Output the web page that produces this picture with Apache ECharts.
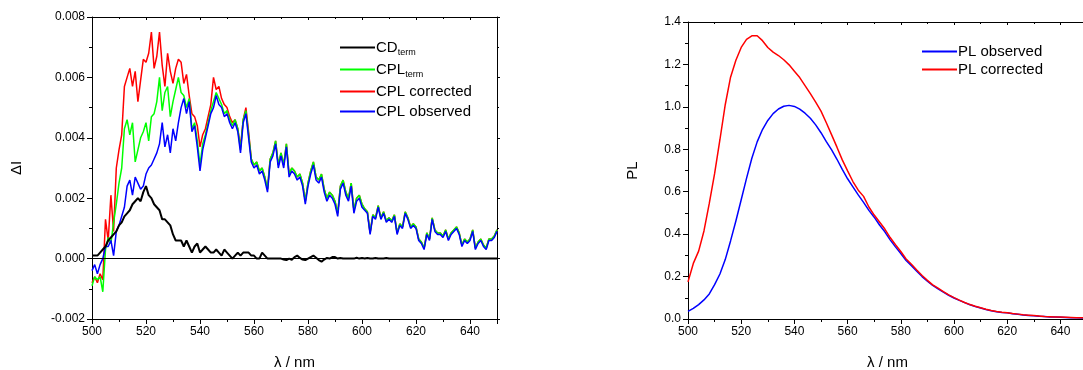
<!DOCTYPE html>
<html><head><meta charset="utf-8">
<script src="https://cdn.jsdelivr.net/npm/echarts@6/dist/echarts.min.js"></script>
<style>html,body{margin:0;padding:0;background:#fff}#c{width:1083px;height:370px}</style>
</head><body><div id="c"></div>
<script>
// ---- Left panel: ΔI vs λ, 1 nm steps from 500 to 650 ----
const cplStart = 500;
const cplStep = 1;
const cdTerm = [
0.0001,0.0001,0.0001,0.0002,0.0003,0.0004,0.0006,0.0007,0.0008,0.0009,
0.0011,0.0012,0.0014,0.0015,0.0016,0.0018,0.0019,0.0020,0.0019,0.0022,
0.0024,0.0021,0.0020,0.0018,0.0017,0.0016,0.0013,0.0013,0.0012,0.0011,
0.0008,0.0006,0.0006,0.0006,0.0004,0.0006,0.0004,0.0002,0.0004,0.0005,
0.0002,0.0003,0.0004,0.0003,0.0002,0.0002,0.0003,0.0002,0.0001,0.0003,
0.0002,0.0001,0.0000,0.0001,0.0002,0.0001,0.0002,0.0002,0.0002,0.0001,
0.0001,0.0000,0.0000,0.0002,0.0001,0.0000,0.0000,0.0000,0.0000,0.0000,
0.0000,-0.00003,-0.00005,0.0000,-0.00004,0.00005,0.0001,0.00002,-0.00003,-0.00005,
0.0000,0.00005,0.0001,0.00003,-0.00005,-0.0001,-0.00003,0.00002,0.0000,0.00005,
0.00005,0.0000,0.00002,0.0000,0.0000,0.0000,0.0000,0.0000,0.00003,0.0000,
0.00002,0.0000,0.00002,0.0000,0.0000,0.00002,0.0000,0.0000,0.0000,0.00002,
0.0000,0.0000,0.0000,0.0000,0.0000,0.0000,0.0000,0.0000,0.0000,0.0000,
0.0000,0.0000,0.0000,0.0000,0.0000,0.0000,0.0000,0.0000,0.0000,0.0000,
0.0000,0.0000,0.0000,0.0000,0.0000,0.0000,0.0000,0.0000,0.0000,0.0000,
0.0000,0.0000,0.0000,0.0000,0.0000,0.0000,0.0000,0.0000,0.0000,0.0000,
0.0000];
const cplTerm = [
-0.0009,-0.0006,-0.0007,-0.0006,-0.0011,0.0003,0.0007,0.0005,0.0012,0.0018,
0.0025,0.0030,0.0043,0.0046,0.0041,0.0045,0.0032,0.0036,0.0040,0.0042,
0.0045,0.0039,0.0047,0.0048,0.0052,0.0060,0.0049,0.0055,0.0057,0.0047,
0.0052,0.0056,0.0060,0.0055,0.0054,0.0050,0.0053,0.0043,0.0045,0.0039,
0.0031,0.0038,0.0041,0.0045,0.0049,0.0052,0.0055,0.0053,0.0051,0.0048,
0.0049,0.0046,0.0044,0.0046,0.0043,0.0036,0.0046,0.0049,0.0041,0.0033,
0.0031,0.0032,0.0029,0.0030,0.0027,0.0023,0.0033,0.0035,0.0039,0.0031,
0.0035,0.0031,0.0038,0.0028,0.0030,0.0029,0.0027,0.0028,0.0025,0.0019,
0.0025,0.0029,0.0032,0.0027,0.0026,0.0028,0.0023,0.0020,0.0022,0.0021,
0.0019,0.0015,0.0024,0.0026,0.0022,0.0020,0.0025,0.0016,0.0020,0.0021,
0.0018,0.00165,0.00155,0.00085,0.00145,0.00135,0.00175,0.00135,0.00155,0.00125,
0.00135,0.00125,0.00145,0.00085,0.00115,0.00105,0.00155,0.00135,0.00105,0.00115,
0.00105,0.00065,0.00055,0.00035,0.00085,0.00065,0.00135,0.00095,0.00085,0.00085,
0.00075,0.00095,0.00065,0.00085,0.00095,0.00105,0.00085,0.00045,0.00065,0.00055,
0.00065,0.00095,0.00035,0.00055,0.00065,0.00045,0.00035,0.00065,0.00065,0.00075,
0.00095];
const cplCorrected = [
-0.0008,-0.0006,-0.0008,-0.0005,-0.0007,0.0013,0.0006,0.0021,0.0009,0.0030,
0.0036,0.0041,0.0057,0.0060,0.0063,0.0057,0.0062,0.0052,0.0059,0.0066,
0.0065,0.0068,0.0075,0.0063,0.0067,0.0075,0.0064,0.0057,0.0068,0.0062,
0.0058,0.0063,0.0066,0.0065,0.0058,0.0061,0.0054,0.0048,0.0047,0.0044,
0.0037,0.0041,0.0043,0.0047,0.0051,0.0060,0.0056,0.0057,0.0053,0.0051,
0.0050,0.0047,0.0045,0.0046,0.0043,0.0037,0.0046,0.0050,0.0042,0.0033,
0.0031,0.0032,0.0029,0.0030,0.0027,0.0023,0.0033,0.0035,0.0039,0.0031,
0.0035,0.0031,0.0038,0.0028,0.0030,0.0029,0.0027,0.0028,0.0025,0.0019,
0.0025,0.0029,0.0032,0.0027,0.0026,0.0028,0.0023,0.0020,0.0022,0.0021,
0.0019,0.0015,0.0024,0.0026,0.0022,0.0020,0.0025,0.0016,0.0020,0.0021,
0.0018,0.00165,0.00155,0.00085,0.00145,0.00135,0.00175,0.00135,0.00155,0.00125,
0.00135,0.00125,0.00145,0.00085,0.00115,0.00105,0.00155,0.00135,0.00105,0.00115,
0.00105,0.00065,0.00055,0.00035,0.00085,0.00065,0.00135,0.00095,0.00085,0.00085,
0.00075,0.00095,0.00065,0.00085,0.00095,0.00105,0.00085,0.00045,0.00065,0.00055,
0.00065,0.00095,0.00035,0.00055,0.00065,0.00045,0.00035,0.00065,0.00065,0.00075,
0.00095];
const cplObserved = [
-0.0004,-0.0002,-0.0005,-0.0002,0.0000,0.0004,0.0004,0.0006,0.0001,0.0009,
0.0011,0.0014,0.0017,0.0024,0.0026,0.0021,0.0027,0.0025,0.0023,0.0024,
0.0028,0.0030,0.0031,0.0033,0.0035,0.0038,0.0045,0.0037,0.0041,0.0035,
0.0043,0.0039,0.0045,0.0050,0.0053,0.0048,0.0052,0.0042,0.0044,0.0037,
0.0029,0.0036,0.0040,0.0044,0.0048,0.0050,0.0054,0.0051,0.0050,0.0047,
0.0048,0.0045,0.0043,0.0045,0.0042,0.0035,0.0045,0.0048,0.0040,0.0032,
0.0030,0.0031,0.0028,0.0029,0.0026,0.0022,0.0032,0.0034,0.0038,0.0030,
0.0034,0.0030,0.0037,0.0027,0.0029,0.0028,0.0026,0.0027,0.0024,0.0018,
0.0024,0.0028,0.0031,0.0026,0.0025,0.0027,0.0022,0.0019,0.0021,0.0020,
0.0018,0.0014,0.0023,0.0025,0.0021,0.0019,0.0024,0.0015,0.0019,0.0020,
0.0017,0.0016,0.0015,0.0008,0.0014,0.0013,0.0017,0.0013,0.0015,0.0012,
0.0013,0.0012,0.0014,0.0008,0.0011,0.0010,0.0015,0.0013,0.0010,0.0011,
0.0010,0.0006,0.0005,0.0003,0.0008,0.0006,0.0013,0.0009,0.0008,0.0008,
0.0007,0.0009,0.0006,0.0008,0.0009,0.0010,0.0008,0.0004,0.0006,0.0005,
0.0006,0.0009,0.0003,0.0005,0.0006,0.0004,0.0003,0.0006,0.0006,0.0007,
0.0009];

// ---- Right panel: PL vs λ, 2 nm steps from 500 to 650 ----
const plStart = 500;
const plStep = 2;
const plObserved = [
0.036,0.050,0.068,0.090,0.118,0.162,0.212,0.280,0.368,0.462,
0.562,0.663,0.758,0.835,0.893,0.936,0.968,0.990,1.003,1.007,
1.002,0.989,0.970,0.946,0.915,0.878,0.836,0.797,0.753,0.705,
0.661,0.623,0.585,0.550,0.512,0.480,0.443,0.411,0.373,0.340,
0.309,0.276,0.251,0.225,0.200,0.178,0.158,0.142,0.127,0.112,
0.099,0.088,0.077,0.067,0.059,0.052,0.045,0.039,0.034,0.031,
0.029,0.025,0.022,0.019,0.017,0.015,0.013,0.012,0.010,0.009,
0.008,0.007,0.006,0.006,0.005,0.005];
const plCorrected = [
0.175,0.262,0.320,0.415,0.545,0.685,0.845,1.010,1.140,1.220,
1.280,1.318,1.335,1.335,1.312,1.280,1.258,1.242,1.222,1.198,
1.168,1.138,1.100,1.062,1.022,0.980,0.925,0.868,0.810,0.750,
0.698,0.648,0.607,0.578,0.528,0.490,0.457,0.424,0.384,0.350,
0.318,0.283,0.258,0.231,0.205,0.182,0.161,0.145,0.129,0.114,
0.101,0.089,0.078,0.068,0.060,0.053,0.046,0.040,0.035,0.032,
0.030,0.026,0.023,0.020,0.018,0.016,0.014,0.012,0.011,0.010,
0.009,0.008,0.007,0.006,0.006,0.005];

const xTicksNm = {min: 500, max: 650, interval: 20};
const leftY = {min: -0.002, max: 0.008, interval: 0.002};
const rightY = {min: 0, max: 1.4, interval: 0.2};

function pairs(start, step, arr) { return arr.map((v, i) => [start + i * step, v]); }

const FONT = "'Liberation Sans', Arial, sans-serif";
const lineAxis = {show: true, onZero: false, lineStyle: {color: '#000', width: 1}};

function mainX(grid) {
  return {type: 'value', gridIndex: grid, min: xTicksNm.min, max: xTicksNm.max, interval: xTicksNm.interval,
    position: 'bottom',
    name: 'λ / nm', nameLocation: 'middle', nameGap: 36,
    nameTextStyle: {fontFamily: FONT, fontSize: 15, color: '#000'},
    axisLine: lineAxis, axisTick: {show: true, inside: false, length: 5, lineStyle: {color: '#000'}},
    minorTick: {show: true, splitNumber: 2, length: 3, lineStyle: {color: '#000'}},
    axisLabel: {fontFamily: FONT, fontSize: 12, color: '#000', margin: 7, showMaxLabel: false},
    splitLine: {show: false}};
}
function mirrorX(grid) {
  return {type: 'value', gridIndex: grid, position: 'top', min: xTicksNm.min, max: xTicksNm.max, interval: xTicksNm.interval,
    axisLine: lineAxis, axisTick: {show: true, inside: true, length: 3, lineStyle: {color: '#000'}},
    minorTick: {show: true, splitNumber: 2, length: 2, lineStyle: {color: '#000'}},
    axisLabel: {show: false}, splitLine: {show: false}};
}
function mainY(grid, cfg, name, gap, dec) {
  return {type: 'value', gridIndex: grid, position: 'left', min: cfg.min, max: cfg.max, interval: cfg.interval,
    name: name, nameLocation: 'middle', nameGap: gap, nameRotate: 90,
    nameTextStyle: {fontFamily: FONT, fontSize: 15, color: '#000'},
    axisLine: lineAxis, axisTick: {show: true, inside: false, length: 5, lineStyle: {color: '#000'}},
    minorTick: {show: true, splitNumber: 2, length: 3, lineStyle: {color: '#000'}},
    axisLabel: {fontFamily: FONT, fontSize: 12, color: '#000', margin: 7, formatter: v => v.toFixed(dec)},
    splitLine: {show: false}};
}
function mirrorY(grid, cfg) {
  return {type: 'value', gridIndex: grid, position: 'right', min: cfg.min, max: cfg.max, interval: cfg.interval,
    axisLine: lineAxis, axisTick: {show: true, inside: false, length: 3, lineStyle: {color: '#000'}},
    minorTick: {show: true, splitNumber: 2, length: 2, lineStyle: {color: '#000'}},
    axisLabel: {show: false}, splitLine: {show: false}};
}

function ln(name, x, y, data, color, width, z) {
  return {name: name, type: 'line', xAxisIndex: x, yAxisIndex: y, data: data, showSymbol: false, symbol: 'none',
    lineStyle: {color: color, width: width}, itemStyle: {color: color}, z: z, animation: false};
}

const chart = echarts.init(document.getElementById('c'), null, {renderer: 'canvas'});
chart.setOption({
  backgroundColor: '#fff',
  animation: false,
  textStyle: {fontFamily: FONT},
  grid: [
    {left: 92, top: 17, width: 405, height: 302, containLabel: false, outerBoundsMode: 'none'},
    {left: 688, top: 22, width: 399, height: 297, containLabel: false, outerBoundsMode: 'none'}
  ],
  xAxis: [mainX(0), mirrorX(0), mainX(1), mirrorX(1)],
  yAxis: [mainY(0, leftY, 'ΔI', 68, 3), mirrorY(0, leftY), mainY(1, rightY, 'PL', 48, 1), mirrorY(1, rightY)],
  legend: [
    {left: 335, top: 35, orient: 'vertical', itemWidth: 35, itemHeight: 2, itemGap: 5, icon: 'rect',
     data: [{name: 'CDterm', icon: 'rect'}, {name: 'CPLterm', icon: 'rect'},
            {name: 'CPL corrected', icon: 'rect'}, {name: 'CPL observed', icon: 'rect'}],
     formatter: n => n === 'CDterm' ? '{m|CD}{s|term}' : n === 'CPLterm' ? '{m|CPL}{s|term}' : n,
     textStyle: {fontFamily: FONT, fontSize: 15, color: '#000', padding: [0, 0, 0, -4],
       rich: {m: {fontFamily: FONT, fontSize: 15, color: '#000'}, s: {fontFamily: FONT, fontSize: 9, color: '#000', padding: [10, 0, 0, 0]}}}},
    {left: 917, top: 39, orient: 'vertical', itemWidth: 35, itemHeight: 2, itemGap: 3, icon: 'rect',
     data: [{name: 'PL observed', icon: 'rect'}, {name: 'PL corrected', icon: 'rect'}],
     textStyle: {fontFamily: FONT, fontSize: 15, color: '#000', padding: [0, 0, 0, -4]}}
  ],
  series: [
    Object.assign(ln('CPL corrected', 0, 0, pairs(cplStart, cplStep, cplCorrected), '#ff0000', 1.5, 2), {
      markLine: {silent: true, symbol: 'none', label: {show: false}, animation: false,
        lineStyle: {color: '#000', width: 1, type: 'solid'}, data: [{yAxis: 0}]}}),
    ln('CPLterm', 0, 0, pairs(cplStart, cplStep, cplTerm), '#00ff00', 1.5, 3),
    ln('CPL observed', 0, 0, pairs(cplStart, cplStep, cplObserved), '#0000ff', 1.5, 4),
    ln('CDterm', 0, 0, pairs(cplStart, cplStep, cdTerm), '#000000', 2, 5),
    ln('PL observed', 2, 2, pairs(plStart, plStep, plObserved), '#0000ff', 1.5, 3),
    ln('PL corrected', 2, 2, pairs(plStart, plStep, plCorrected), '#ff0000', 1.5, 4)
  ]
});
</script></body></html>
